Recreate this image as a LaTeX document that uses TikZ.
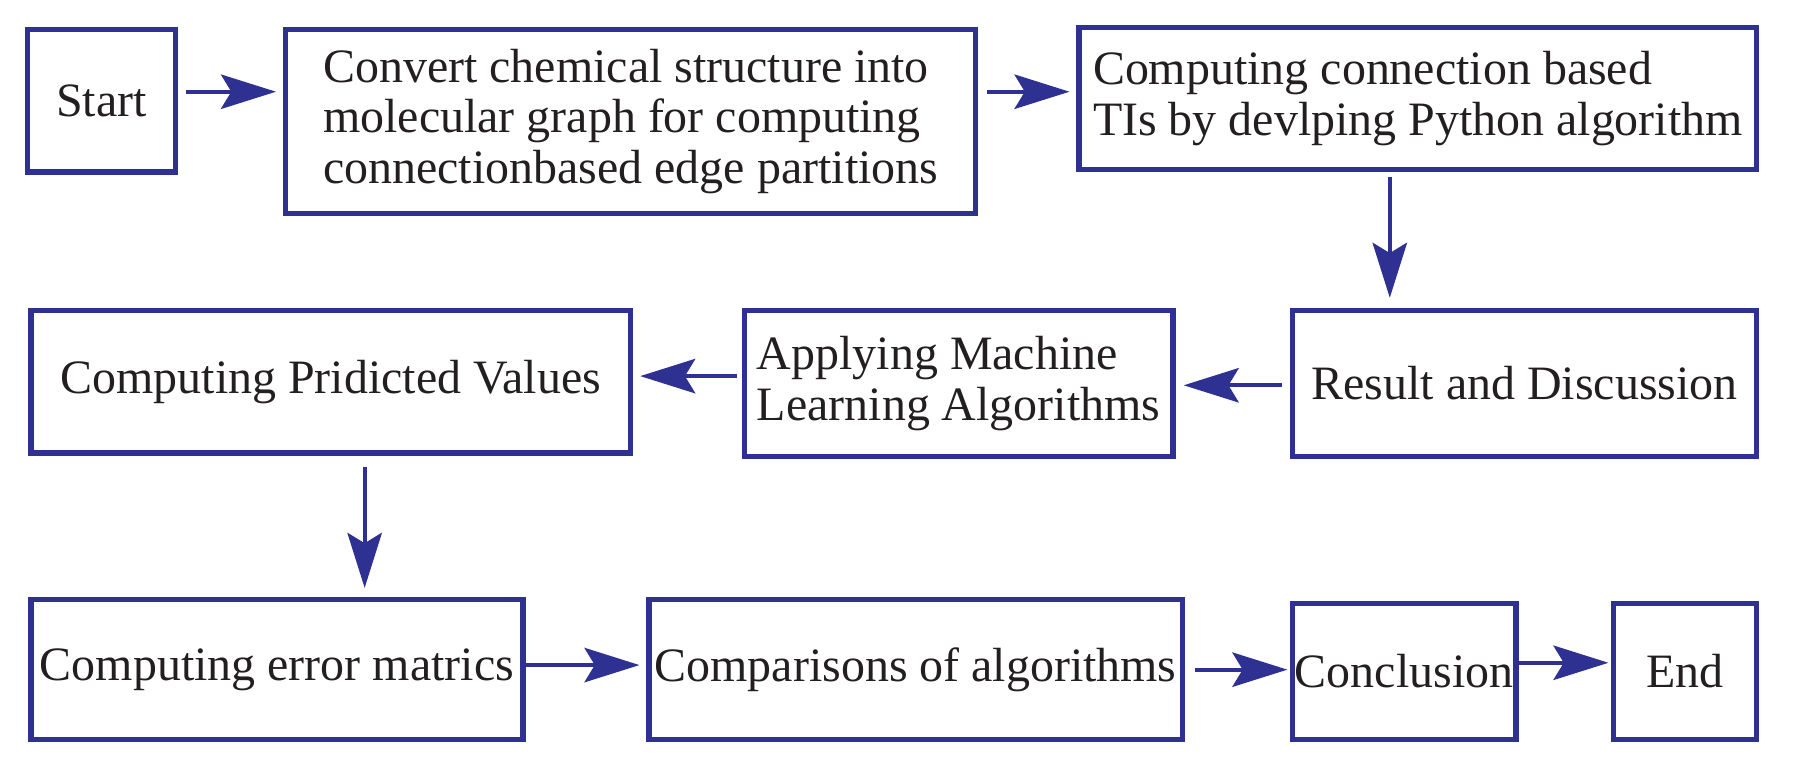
\documentclass[tikz,border=0pt]{standalone}
\usepackage{fontspec}
\setmainfont{Liberation Serif}
\usetikzlibrary{arrows.meta}
\definecolor{bblue}{HTML}{2E3192}
\definecolor{txt}{HTML}{231F20}
\begin{document}
\begin{tikzpicture}[x=0.5pt,y=-0.5pt,
  box/.style={draw=bblue, line width=2.3pt, inner sep=0pt, align=left, text=txt,
    font=\fontsize{20.9pt}{22pt}\selectfont},
  arr/.style={draw=bblue, line width=1.7pt,
    -{Stealth[length=24pt,width=15pt,inset=4.5pt]}}]
\useasboundingbox (0,0) rectangle (1568,677.6);
\node[box, minimum width=64.5pt, minimum height=62pt] (start) at (88.5,88) {Start};
\node[box, minimum width=301pt, minimum height=80pt] (conv) at (550,106)
  {Convert chemical structure into\\molecular graph for computing\\connectionbased edge partitions};
\node[box, minimum width=295.5pt, minimum height=62pt] (comp) at (1236.5,86)
  {Computing connection based\\TIs by devlping Python algorithm};
\node[box, minimum width=202.5pt, minimum height=63.5pt] (result) at (1329.5,334.5) {Result and Discussion};
\node[box, minimum width=187pt, minimum height=63.5pt] (apply) at (836,334.5)
  {Applying Machine\\Learning Algorithms};
\node[box, minimum width=261.5pt, minimum height=62pt] (pred) at (288.5,333) {Computing Pridicted Values};
\node[box, minimum width=214.5pt, minimum height=61pt] (err) at (241.5,584) {Computing error matrics};
\node[box, minimum width=232.5pt, minimum height=61pt] (cmp) at (798.5,584) {Comparisons of algorithms};
\node[box, minimum width=97.5pt, minimum height=59.5pt] (concl) at (1224.5,585.5) {Conclusion};
\node[box, minimum width=62.5pt, minimum height=59.5pt] (end) at (1469.5,585.5) {End};
% arrows
\coordinate (a1) at ([xshift=3.5pt,yshift=4pt]start.east);
\draw[arr, shorten >=3pt] (a1) -- (a1 -| conv.west);
\coordinate (a2) at ([xshift=3.5pt,yshift=13pt]conv.east);
\draw[arr, shorten >=3pt] (a2) -- (a2 -| comp.west);
\coordinate (a3) at ([xshift=-12.25pt,yshift=-2pt]comp.south);
\draw[arr, shorten >=4.5pt] (a3) -- (a3 |- result.north);
\coordinate (a4) at ([xshift=-3.5pt,yshift=-0.75pt]result.west);
\draw[arr, shorten >=3.5pt] (a4) -- (a4 -| apply.east);
\coordinate (a5) at ([xshift=-2pt,yshift=3.25pt]apply.west);
\draw[arr, shorten >=3pt] (a5) -- (a5 -| pred.east);
\coordinate (a6) at ([xshift=14.75pt,yshift=-5pt]pred.south);
\draw[arr, shorten >=4pt] (a6) -- (a6 |- err.north);
\coordinate (a7) at ([yshift=2pt]err.east);
\draw[arr, shorten >=3pt] (a7) -- (a7 -| cmp.west);
\coordinate (a8) at ([xshift=4.5pt]cmp.east);
\draw[arr, shorten >=1pt] (a8) -- (a8 -| concl.west);
\coordinate (a9) at ([yshift=3.75pt]concl.east);
\draw[arr, shorten >=1pt] (a9) -- (a9 -| end.west);
\end{tikzpicture}
\end{document}
